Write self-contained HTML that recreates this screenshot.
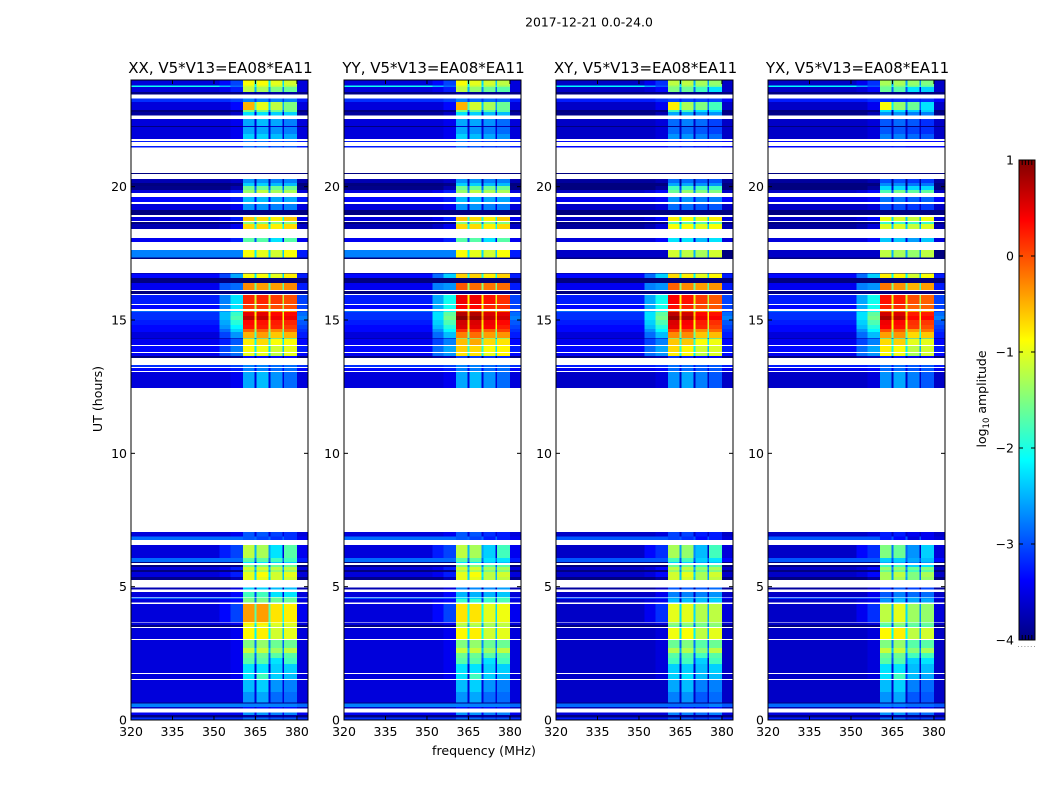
<!DOCTYPE html>
<html lang="en">
<head>
<meta charset="utf-8">
<title>2017-12-21 amplitude spectrograms</title>
<style>
html,body{margin:0;padding:0;background:#fff;width:1050px;height:800px;overflow:hidden}
svg{display:block}
text{font-family:"DejaVu Sans","Liberation Sans",sans-serif;fill:#000}
</style>
</head>
<body>
<svg id="chart" xmlns="http://www.w3.org/2000/svg" width="1050" height="800" viewBox="0 0 1050 800">
<text x="589" y="26.5" font-size="12.4" text-anchor="middle">2017-12-21 0.0-24.0</text>
<text x="484" y="755" font-size="12.6" text-anchor="middle">frequency (MHz)</text>
<text x="0" y="0" font-size="12.6" text-anchor="middle" transform="translate(102 399) rotate(-90)">UT (hours)</text>
<text x="0" y="0" font-size="12.5" text-anchor="middle" transform="translate(986 399) rotate(-90)">log<tspan dy="3" font-size="8.5">10</tspan><tspan dy="-3"> amplitude</tspan></text>
<g id="panels"></g>
<g id="colorbar"></g>
</svg>
<script>
// Polarisation panels
const panelTitles = ["XX, V5*V13=EA08*EA11", "YY, V5*V13=EA08*EA11", "XY, V5*V13=EA08*EA11", "YX, V5*V13=EA08*EA11"];
const freqTicks = [320, 335, 350, 365, 380];
const utTicks = [0, 5, 10, 15, 20];
const colorbarTicks = [1, 0, -1, -2, -3, -4];

// Frequency column edges (MHz); each column reads one level of a band row
const freqEdges = [320, 352, 356, 360.5, 364.7, 365.4, 369.7, 370.4, 374.7, 375.4, 380, 384];
const columnLevel = [0, 1, 2, 3, "gap", 4, "gap", 5, "gap", 6, 7];

// Band rows: [start UT, background, shoulder A, shoulder B, ch1, ch2, ch3, ch4, tail]; start only = no data
const bandLevels = [
[0,-2.9,-2.9,-2.9,-2.5,-2.5,-2.6,-2.6,-2.9],
[.094,-3.8,-3.8,-3.8,-3.5,-3.5,-3.5,-3.5,-3.8],
[.188,-3.2,-3.2,-3.2,-2.3,-2.3,-2.4,-2.4,-3.2],
[.281],
[.431,-3.4,-3.4,-3.4,-3,-3,-3,-3,-3.4],
[.488,-2.5,-2.5,-2.5,-2.4,-2.4,-2.4,-2.4,-2.6],
[.619,-3.8,-3.8,-3.8,-3.6,-3.6,-3.6,-3.6,-3.8],
[.656,-3.3,-3.3,-3.3,-2.3,-2.2,-2.5,-2.5,-3.3],
[1.05,-3.3,-3.3,-3.3,-2.1,-2,-2.3,-2.4,-3.3],
[1.5],
[1.538,-3.3,-3.3,-3.2,-1.9,-1.8,-2,-2.1,-3.3],
[1.725],
[1.763,-3.3,-3.3,-3.2,-1.9,-1.9,-2,-2,-3.3],
[2.1,-3.3,-3.3,-3.2,-1.7,-1.7,-1.9,-1.8,-3.3],
[2.325,-3.3,-3.3,-3.2,-1.6,-1.6,-1.7,-1.7,-3.3],
[2.513,-3.3,-3.3,-3.2,-1.15,-1.15,-1.35,-1.2,-3.3],
[2.7,-3.3,-3.3,-3.2,-1.5,-1.4,-1.6,-1.6,-3.3],
[3],
[3.038,-3.3,-3.3,-3.2,-.85,-.8,-1.1,-1,-3.3],
[3.45],
[3.488,-3.8,-3.8,-3.7,-1,-1,-1.1,-1.1,-3.8],
[3.563,-3.3,-3.3,-3.2,-.8,-.8,-1,-1,-3.3],
[3.656],
[3.675,-3.3,-3.1,-2.8,-.4,-.4,-.75,-.8,-3.2],
[4.35],
[4.406,-3.3,-3.2,-3.1,-1.5,-1.5,-1.6,-1.6,-3.3],
[4.538,-2.7,-2.7,-2.7,-1.6,-1.6,-1.6,-1.7,-3],
[4.594],
[4.613,-3.3,-3.3,-3.1,-1.8,-1.8,-1.9,-1.9,-3.3],
[4.8],
[4.894,-3.5,-3.5,-3.3,-2,-2,-2.1,-2.1,-3.5],
[4.969],
[5.25,-3.7,-3.7,-3.5,-1,-1,-1.1,-1.1,-3.7],
[5.363,-3.3,-3.2,-3,-1,-.9,-1.1,-1,-3.3],
[5.55,-3.8,-3.8,-3.7,-1.3,-1.3,-1.4,-1.4,-3.8],
[5.625,-3.3,-3.2,-3,-1.1,-1.1,-1.2,-1.2,-3.3],
[5.738,-3.8,-3.8,-3.7,-1.5,-1.5,-1.6,-1.6,-3.8],
[5.813],
[5.888,-3.8,-3.8,-3.8,-1.9,-1.9,-2,-2,-3.8],
[5.925,-2.6,-2.6,-2.6,-1.7,-1.7,-1.8,-1.8,-3],
[6.075,-3.3,-3,-2.8,-1.2,-1.3,-1.9,-1.7,-3.2],
[6.563],
[6.75,-2.6,-2.6,-2.6,-2.6,-2.7,-2.8,-2.8,-3.2],
[6.881,-3.3,-3.3,-3.2,-2.6,-2.6,-2.7,-2.8,-3.3],
[7.05],
[12.45,-3.3,-3.3,-3.2,-2.2,-2.1,-2.3,-2.5,-3.3],
[13.05],
[13.088,-3.1,-3.1,-3,-2.4,-2.4,-2.5,-2.5,-3.1],
[13.2],
[13.238,-2.9,-2.9,-2.8,-2.4,-2.4,-2.5,-2.5,-2.9],
[13.313],
[13.575,-3.8,-3.8,-3.7,-3,-3,-3,-3,-3.8],
[13.65,-3.2,-2.8,-2.6,-1,-1,-1.2,-1,-3.1],
[13.763],
[13.8,-3.1,-2.8,-2.5,-.9,-.95,-1.1,-1,-3],
[14.025],
[14.063,-3.2,-3,-2.7,-.8,-.7,-.9,-.9,-3.1],
[14.306,-3.8,-3.8,-3.6,-2,-2,-2,-2,-3.8],
[14.325,-3.3,-2.8,-2.4,-.5,-.4,-.6,-.5,-3],
[14.55,-3.1,-2.6,-2.1,-.1,-.1,-.3,-.1,-2.9],
[14.663,-3.1,-2.4,-1.9,.3,.25,.2,.1,-2.8],
[14.813,-3,-2.3,-1.7,.35,.3,.25,.2,-2.7],
[15,-2.9,-2.2,-1.5,.7,.65,.45,.45,-2.5],
[15.15,-2.9,-2.2,-1.6,.5,.5,.35,.35,-2.6],
[15.3,-2.6,-2.4,-2,-.2,-.2,-.3,-.3,-2.8],
[15.338],
[15.413,-3.1,-2.5,-2,.1,.1,0,0,-2.8],
[15.563],
[15.6,-3,-2.5,-2,.2,.2,.1,0,-2.8],
[15.938],
[15.975,-3.95,-3.95,-3.95,-3.95,-3.95,-3.95,-3.95,-3.95],
[16.088],
[16.125,-3.2,-2.7,-2.6,-.3,-.4,-.4,-.3,-3],
[16.388,-3.95,-3.95,-3.95,-3.95,-3.95,-3.95,-3.95,-3.95],
[16.575,-3.1,-2.8,-2.3,-.9,-.9,-1,-.8,-3],
[16.744,-3.9,-3.9,-3.9,-3.9,-3.9,-3.9,-3.9,-3.9],
[16.763],
[17.288,-3.9,-3.9,-3.9,-3.9,-3.9,-3.9,-3.9,-3.9],
[17.344,-2.5,-2.5,-2.5,-.9,-1,-1.1,-.9,-3],
[17.625],
[17.925,-3.2,-3.2,-3,-1.7,-1.7,-1.9,-1.7,-3.2],
[18.075],
[18.413,-3.5,-3.4,-3.2,-.7,-.7,-.8,-.7,-3.4],
[18.6,-3.9,-3.9,-3.8,-1.5,-1.5,-1.5,-1.5,-3.9],
[18.675],
[18.713,-3.3,-3.2,-3,-.6,-.7,-.8,-.6,-3.2],
[18.863],
[18.938,-3.95,-3.95,-3.95,-3.95,-3.95,-3.95,-3.95,-3.95],
[19.125,-3.3,-3.3,-3.2,-2.3,-2.3,-2.4,-2.4,-3.3],
[19.35],
[19.425,-3.1,-3.1,-3,-2.1,-2.1,-2.2,-2.2,-3],
[19.613],
[19.763,-3.3,-3.2,-3,-1.4,-1.2,-1.3,-1.3,-3.3],
[19.875,-3.7,-3.7,-3.5,-1.6,-1.6,-1.6,-1.6,-3.7],
[20.025,-3.8,-3.8,-3.7,-2,-2,-2.1,-2.1,-3.8],
[20.138,-3.5,-3.5,-3.4,-2.3,-2.3,-2.4,-2.4,-3.5],
[20.288],
[20.475,-3.95,-3.95,-3.95,-3.95,-3.95,-3.95,-3.95,-3.95],
[20.513],
[21.469,-3,-3,-3,-2.5,-2.5,-2.6,-2.6,-3],
[21.525],
[21.675,-3,-3,-3,-2.5,-2.5,-2.6,-2.6,-3],
[21.713],
[21.788,-3.3,-3.3,-3.2,-2,-2,-2.1,-2.2,-3.3],
[21.975,-3.3,-3.3,-3.2,-2.2,-2.2,-2.3,-2.4,-3.3],
[22.238,-3.8,-3.8,-3.8,-3.3,-3.3,-3.3,-3.3,-3.8],
[22.275,-3.3,-3.3,-3.2,-2.2,-2.1,-2.2,-2.4,-3.3],
[22.538],
[22.669,-3.6,-3.6,-3.4,-1.9,-1.9,-2,-2,-3.6],
[22.8,-3.8,-3.8,-3.7,-1.5,-1.5,-1.6,-1.6,-3.8],
[22.875,-3.3,-3.3,-3.1,-.5,-1,-1.2,-1.5,-3.3],
[23.175,-2.9,-2.9,-2.8,-2.4,-2.4,-2.4,-2.4,-3],
[23.306],
[23.456,-3.8,-3.8,-3.8,-3.5,-3.5,-3.5,-3.5,-3.8],
[23.55,-3.3,-3.2,-3,-1.2,-1.3,-1.5,-1.6,-3.3],
[23.738,-1.8,-2.2,-2.6,-1.1,-1.1,-1.2,-1.3,-3.3],
[23.794,-3.3,-3.1,-2.8,-.9,-.9,-1,-1.1,-3.3]
];

// Per-polarisation level offsets by epoch: [background, shoulder, ch1, ch2, ch3, ch4]
const epochStartUT = [0, 3.45, 5.25, 7.05, 13.575, 16.763, 17.288, 17.625, 20.288];
const offsetsXX = [[0,0,0,0,0,0],[0,0,0,0,0,0],[0,0,0,0,0,0],[0,0,0,0,0,0],[0,0,0,0,0,0],[0,0,0,0,0,0],[0,0,0,0,0,0],[0,0,0,0,0,0],[0,0,0,0,0,0]];
const offsetsYY = [[0,0,0,0,0,0],[0,0,-.35,-.35,-.25,-.15],[0,0,0,0,-.1,-.1],[0,0,0,0,0,0],[0,.2,.25,.25,.2,.15],[0,0,0,0,0,0],[0,0,0,0,0,0],[0,0,0,0,0,0],[0,0,0,-.1,-.1,-.1]];
const offsetsXY = [[-.1,-.1,-.1,-.1,-.1,0],[-.1,-.1,-.6,-.6,-.5,-.4],[-.1,-.1,-.1,-.1,-.2,-.1],[-.1,-.1,-.1,-.1,-.1,-.1],[0,.2,.2,.1,0,-.05],[0,0,0,0,0,0],[-.9,-.9,-.2,-.2,-.2,-.2],[-.1,-.1,-.2,-.2,-.2,-.2],[-.1,-.1,-.3,-.3,-.3,-.3]];
const offsetsYX = [[-.1,-.1,0,0,-.1,-.1],[-.1,-.1,-.8,-.6,-.6,-.6],[-.1,-.1,-.3,-.3,-.4,-.3],[-.1,-.1,-.1,-.1,-.1,-.1],[0,.2,.1,.05,-.1,-.1],[0,0,0,0,0,0],[-.9,-.9,-.3,-.3,-.3,-.3],[-.1,-.1,-.35,-.35,-.35,-.35],[-.1,-.1,-.4,-.4,-.4,-.4]];
const panelOffsets = [offsetsXX, offsetsYY, offsetsXY, offsetsYX];

// Level drop of the narrow gaps between spectral windows, and display biases
const gapDrop = 1.3;
const backgroundBias = -0.25;
const dimChannelBias = -0.35;
const dimChannelLimit = -1.85;

const svgNS = "http://www.w3.org/2000/svg";
const panelLefts = [131, 344, 556, 768];
const panelWidth = 177, plotTop = 80, plotBottom = 720;
const freqMin = 320, freqMax = 384, utMin = 0, utMax = 24;
const levelMin = -4, levelMax = 1;

function jetChannel(t, c) { return Math.max(0, Math.min(1, 1.5 - Math.abs(4 * t - c))); }
function jet(level) {
  const t = Math.max(0, Math.min(1, (level - levelMin) / (levelMax - levelMin)));
  return "rgb(" + Math.round(255 * jetChannel(t, 3)) + "," + Math.round(255 * jetChannel(t, 2)) + "," + Math.round(255 * jetChannel(t, 1)) + ")";
}
function xScale(panel, mhz) { return panelLefts[panel] + (mhz - freqMin) / (freqMax - freqMin) * panelWidth; }
function yScale(ut) { return plotBottom - (ut - utMin) / (utMax - utMin) * (plotBottom - plotTop); }
function make(tag, parent, attrs) {
  const el = document.createElementNS(svgNS, tag);
  for (const k in attrs) el.setAttribute(k, attrs[k]);
  parent.appendChild(el);
  return el;
}
function epochIndex(ut) {
  let e = 0;
  epochStartUT.forEach(function (s, i) { if (ut >= s) e = i; });
  return e;
}
function cellLevel(row, level, offs) {
  if (level === 0) return row[1] + offs[0] + backgroundBias;
  if (level === 1 || level === 2) return row[level + 1] + offs[1] + backgroundBias;
  if (level === 7) return row[8] + offs[0] + backgroundBias;
  const v = row[level + 1] + offs[level - 1];
  return v < dimChannelLimit ? v + dimChannelBias : v;
}

const panelsRoot = document.getElementById("panels");
panelTitles.forEach(function (title, p) {
  const g = make("g", panelsRoot, {});
  
  

  const heat = make("g", g, { "shape-rendering": "crispEdges" });
  
  

  bandLevels.forEach(function (row, r) {
    if (row.length < 2) return;
    const ut0 = row[0];
    const ut1 = r + 1 < bandLevels.length ? bandLevels[r + 1][0] : utMax;
    const offs = panelOffsets[p][epochIndex(ut0)];
    columnLevel.forEach(function (lvl, c) {
      let v;
      if (lvl === "gap") {
        const left = columnLevel[c - 1];
        v = Math.max(cellLevel(row, left, offs) - gapDrop, row[1] + offs[0] + backgroundBias);
      } else {
        v = cellLevel(row, lvl, offs);
      }
      const x0 = xScale(p, freqEdges[c]), x1 = xScale(p, freqEdges[c + 1]);
      const y0 = yScale(ut1), y1 = yScale(ut0);
      const cell = make("rect", heat, { x: x0.toFixed(2), y: y0.toFixed(2), width: (x1 - x0).toFixed(2), height: (y1 - y0).toFixed(2), fill: jet(v) });
      
      
    });
  });

  const frame = make("rect", g, { x: panelLefts[p], y: plotTop, width: panelWidth, height: plotBottom - plotTop, fill: "none", stroke: "#000", "stroke-width": 1 });
  
  

  const ttl = make("text", g, { x: panelLefts[p] + panelWidth / 2 + 1, y: 73, "font-size": 15, "text-anchor": "middle" });
  ttl.textContent = title;
  
  

  freqTicks.forEach(function (f) {
    const x = xScale(p, f);
    const tb = make("line", g, { x1: x, x2: x, y1: plotBottom, y2: plotBottom - 4, stroke: "#000", "stroke-width": 1 });
    
    
    const tt = make("line", g, { x1: x, x2: x, y1: plotTop, y2: plotTop + 4, stroke: "#000", "stroke-width": 1 });
    
    
    const lab = make("text", g, { x: x, y: 736, "font-size": 12.5, "text-anchor": "middle" });
    lab.textContent = f;
    
    
  });

  utTicks.forEach(function (u) {
    const y = yScale(u);
    const tl = make("line", g, { x1: panelLefts[p], x2: panelLefts[p] + 4, y1: y, y2: y, stroke: "#000", "stroke-width": 1 });
    
    
    const tr = make("line", g, { x1: panelLefts[p] + panelWidth, x2: panelLefts[p] + panelWidth - 4, y1: y, y2: y, stroke: "#000", "stroke-width": 1 });
    
    
    const lab = make("text", g, { x: panelLefts[p] - 4, y: y + 4.5, "font-size": 12.5, "text-anchor": "end" });
    lab.textContent = u;
    
    
  });
});

// Colorbar
const cbRoot = document.getElementById("colorbar");
const cbLeft = 1019, cbWidth = 16, cbTop = 160, cbBottom = 640;
function cbScale(level) { return cbBottom - (level - levelMin) / (levelMax - levelMin) * (cbBottom - cbTop); }

const defs = make("defs", cbRoot, {});
const grad = make("linearGradient", defs, { id: "jet-gradient", x1: 0, y1: 1, x2: 0, y2: 0 });
for (let i = 0; i <= 40; i++) {
  make("stop", grad, { offset: (i / 40).toFixed(3), "stop-color": jet(levelMin + (levelMax - levelMin) * i / 40) });
}
const bar = make("rect", cbRoot, { x: cbLeft, y: cbTop, width: cbWidth, height: cbBottom - cbTop, fill: "url(#jet-gradient)", stroke: "#000", "stroke-width": 1 });



colorbarTicks.forEach(function (t) {
  const y = cbScale(t);
  const a = make("line", cbRoot, { x1: cbLeft, x2: cbLeft + 4, y1: y, y2: y, stroke: "#000", "stroke-width": 1 });
  
  
  const b = make("line", cbRoot, { x1: cbLeft + cbWidth, x2: cbLeft + cbWidth - 4, y1: y, y2: y, stroke: "#000", "stroke-width": 1 });
  
  
  const lab = make("text", cbRoot, { x: cbLeft - 5, y: y + 4.5, "font-size": 12.5, "text-anchor": "end" });
  lab.textContent = t < 0 ? "\u2212" + (-t) : String(t);
  
  
});

for (let i = 1; i <= 4; i++) {
  const x = cbLeft + i * cbWidth / 5;
  const top = make("line", cbRoot, { x1: x, x2: x, y1: cbTop, y2: cbTop + 5, stroke: "#000", "stroke-width": 1 });
  
  
  const bot = make("line", cbRoot, { x1: x, x2: x, y1: cbBottom, y2: cbBottom - 5, stroke: "#000", "stroke-width": 1 });
  
  
}
for (let i = 0; i <= 5; i++) {
  const dot = make("rect", cbRoot, { x: cbLeft - 1 + i * 3.2, y: 646, width: 1, height: 1, fill: "#999" });
  
  
}
</script>
</body>
</html>
